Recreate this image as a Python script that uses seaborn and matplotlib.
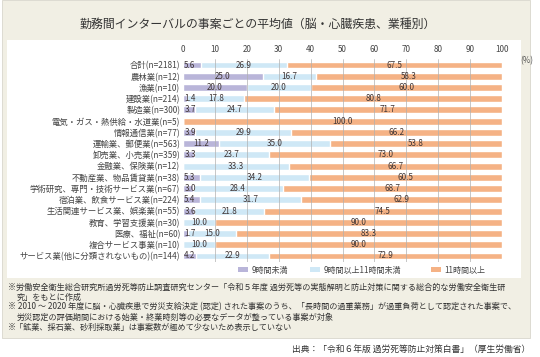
import matplotlib
matplotlib.use('Agg')
import matplotlib.pyplot as plt
from matplotlib.patches import Rectangle, Patch
import seaborn as sns
import pandas as pd

# data
industries = ["合計(n=2181)", "農林業(n=12)", "漁業(n=10)", "建設業(n=214)", "製造業(n=300)",
              "電気・ガス・熱供給・水道業(n=5)", "情報通信業(n=77)", "運輸業、郵便業(n=563)",
              "卸売業、小売業(n=359)", "金融業、保険業(n=12)", "不動産業、物品賃貸業(n=38)",
              "学術研究、専門・技術サービス業(n=67)", "宿泊業、飲食サービス業(n=224)",
              "生活関連サービス業、娯楽業(n=55)", "教育、学習支援業(n=30)", "医療、福祉(n=60)",
              "複合サービス事業(n=10)", "サービス業(他に分類されないもの)(n=144)"]
under9 = [5.6, 25.0, 20.0, 1.4, 3.7, 0, 3.9, 11.2, 3.3, 0, 5.3, 3.0, 5.4, 3.6, 0, 1.7, 0, 4.2]
from9to11 = [26.9, 16.7, 20.0, 17.8, 24.7, 0, 29.9, 35.0, 23.7, 33.3, 34.2, 28.4, 31.7, 21.8, 10.0, 15.0, 10.0, 22.9]
over11 = [67.5, 58.3, 60.0, 80.8, 71.7, 100.0, 66.2, 53.8, 73.0, 66.7, 60.5, 68.7, 62.9, 74.5, 90.0, 83.3, 90.0, 72.9]
series_names = ["9時間未満", "9時間以上11時間未満", "11時間以上"]
colors = ["#b9b5d9", "#cfe8f6", "#f5b285"]

sns.set_style("white")
jp = ['Noto Sans CJK JP', 'DejaVu Sans']
plt.rcParams['font.family'] = jp

df = pd.DataFrame({"業種": industries, "a": under9, "b": from9to11, "c": over11})
df["cum_a"] = df["a"]
df["cum_b"] = df["a"] + df["b"]
df["cum_c"] = df["a"] + df["b"] + df["c"]

fig = plt.figure(figsize=(5.4, 3.57), dpi=100)
fig.patches.append(Rectangle((0.004, 0.053), 0.978, 0.947, transform=fig.transFigure,
                             facecolor="#f1efe4", edgecolor="#d8d6cc", lw=0.6, zorder=-2))
fig.patches.append(Rectangle((0.013, 0.221), 0.952, 0.667, transform=fig.transFigure,
                             facecolor="white", edgecolor="none", zorder=-1))

ax = fig.add_axes([183 / 540, 1 - 261.6 / 357, 319 / 540, 202.2 / 357])
ax.set_zorder(2)
ax.patch.set_alpha(0)

# stacked bars drawn as overlapping cumulative totals
for col, c in zip(["cum_c", "cum_b", "cum_a"], colors[::-1]):
    sns.barplot(data=df, x=col, y="業種", orient="h", color=c, width=0.62,
                saturation=1, ax=ax, zorder=2)

for x in range(10, 101, 10):
    ax.axvline(x, color="#b0b0b0", lw=0.5, zorder=3)

# value labels
for i in range(len(industries)):
    start = 0
    for v in (under9[i], from9to11[i], over11[i]):
        if v > 0:
            if v < 6:
                ax.text(start + 0.4, i, f"{v:.1f}", ha="left", va="center",
                        fontsize=5.8, color="#3f3535", family=jp, zorder=4)
            else:
                ax.text(start + v / 2, i, f"{v:.1f}", ha="center", va="center",
                        fontsize=5.8, color="#3f3535", family=jp, zorder=4)
        start += v

ax.set_xlim(0, 100)
ax.set_ylim(17.5, -0.5)
ax.set_xlabel("")
ax.set_ylabel("")
ax.set_xticks(range(0, 101, 10))
ax.xaxis.tick_top()
ax.tick_params(axis="x", length=0, pad=4, labelsize=5.8, labelcolor="#444444")
ax.tick_params(axis="y", length=0, pad=2, labelsize=6.0, labelcolor="#444444")
for lab in ax.get_yticklabels():
    lab.set_family(jp)
for s in ax.spines.values():
    s.set_visible(False)

fig.text(520 / 540, 1 - 61 / 357, "(%)", fontsize=5.8, color="#555555", ha="left", va="center")

fig.text(258 / 540, 1 - 24 / 357, "勤務間インターバルの事案ごとの平均値（脳・心臓疾患、業種別）",
         fontsize=8.6, color="#333333", ha="center", va="center")

# legend entries placed one by one to match the uneven spacing
legend_x = [238, 310, 431]
for name, c, lx in zip(series_names, colors, legend_x):
    fig.legend([Patch(facecolor=c, edgecolor="none")], [name], loc="center left",
               bbox_to_anchor=(lx / 540, 1 - 270 / 357), frameon=False, fontsize=5.8,
               handlelength=1.3, handleheight=0.6, handletextpad=0.4,
               borderpad=0, borderaxespad=0, labelcolor="#444444")

notes = [
    (8, 287, "※労働安全衛生総合研究所過労死等防止調査研究センター「令和５年度 過労死等の実態解明と防止対策に関する総合的な労働安全衛生研"),
    (17, 297, "究」をもとに作成"),
    (8, 307, "※ 2010 ～ 2020 年度に脳・心臓疾患で労災支給決定 (認定) された事案のうち、「長時間の過重業務」が過重負荷として認定された事案で、"),
    (17, 317, "労災認定の評価期間における始業・終業時刻等の必要なデータが整っている事案が対象"),
    (8, 327, "※「鉱業、採石業、砂利採取業」は事案数が極めて少ないため表示していない"),
]
for x, y, t in notes:
    fig.text(x / 540, 1 - y / 357, t, fontsize=5.85, color="#333333", ha="left", va="center")

fig.text(530 / 540, 1 - 349 / 357, "出典：「令和６年版 過労死等防止対策白書」（厚生労働省）",
         fontsize=6.3, color="#333333", ha="right", va="center")

fig.savefig("out.png", dpi=100)
